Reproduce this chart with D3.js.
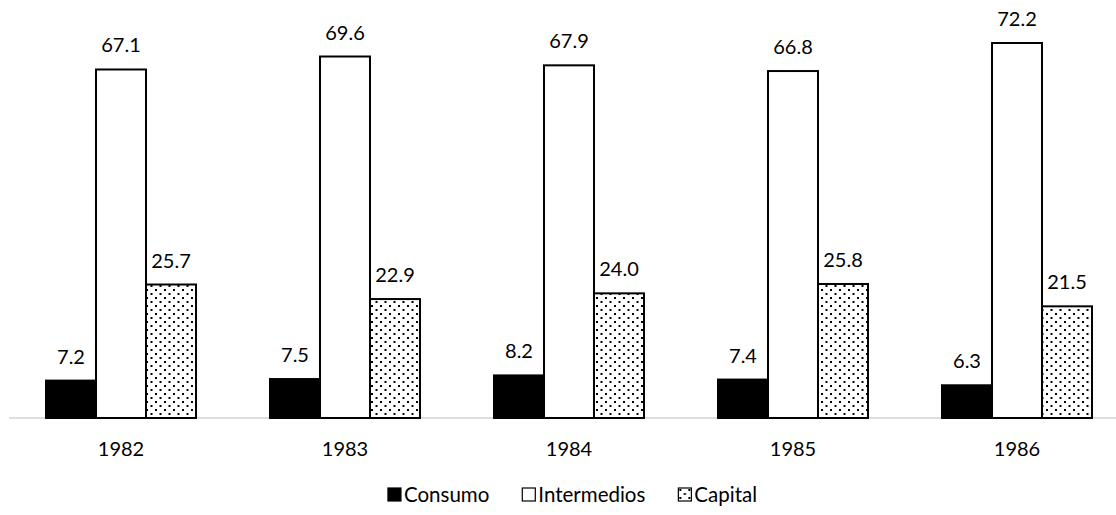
<!DOCTYPE html>
<html>
<head>
<meta charset="utf-8">
<script src="https://cdn.jsdelivr.net/npm/d3@7"></script>
<style>
  html, body { margin: 0; padding: 0; background: #fff; }
  svg { display: block; font-family: Lato, "Open Sans", sans-serif; }
</style>
</head>
<body>
<svg id="chart" width="1116" height="515"></svg>
<script>
// Import composition by type of good, 1982-1986 (%)
const years = ["1982", "1983", "1984", "1985", "1986"];
const seriesNames = ["Consumo", "Intermedios", "Capital"];
const consumo = [7.2, 7.5, 8.2, 7.4, 6.3];
const intermedios = [67.1, 69.6, 67.9, 66.8, 72.2];
const capital = [25.7, 22.9, 24.0, 25.8, 21.5];

const seriesValues = [consumo, intermedios, capital];

const svg = d3.select("#chart");

// dotted fill for the capital goods bars
const defs = svg.append("defs");
const pat = defs.append("pattern")
  .attr("id", "dots")
  .attr("patternUnits", "userSpaceOnUse")
  .attr("width", 9).attr("height", 8);
pat.append("rect").attr("width", 9).attr("height", 8).attr("fill", "#fff");
pat.append("rect").attr("x", 2).attr("y", 1).attr("width", 2).attr("height", 2).attr("fill", "#000");
pat.append("rect").attr("x", 6.5).attr("y", 5).attr("width", 2).attr("height", 2).attr("fill", "#000");

const fills = ["#000", "#fff", "url(#dots)"];

const baseY = 418;
const x0 = d3.scaleBand().domain(years).range([9, 1129]).paddingInner(0).paddingOuter(0);
const groupW = 150;
const x1 = d3.scaleBand().domain(seriesNames).range([0, groupW]).padding(0);
const y = d3.scaleLinear().domain([0, 72.2]).range([baseY, 43]);

// baseline
svg.append("line")
  .attr("x1", x0.range()[0]).attr("x2", x0.range()[1])
  .attr("y1", baseY).attr("y2", baseY)
  .attr("stroke", "#d3d3d3").attr("stroke-width", 1.5);

const rows = [];
years.forEach((yr, i) => {
  seriesNames.forEach((s, j) => {
    rows.push({ year: yr, series: s, j, value: seriesValues[j][i] });
  });
});

const gx = yr => x0(yr) + (x0.bandwidth() - groupW) / 2;

svg.append("g").selectAll("rect")
  .data(rows)
  .join("rect")
  .attr("x", d => gx(d.year) + x1(d.series))
  .attr("y", d => y(d.value))
  .attr("width", x1.bandwidth())
  .attr("height", d => baseY - y(d.value))
  .attr("fill", d => fills[d.j])
  .attr("stroke", "#000")
  .attr("stroke-width", 2);

// value labels
svg.append("g").selectAll("text")
  .data(rows)
  .join("text")
  .attr("x", d => gx(d.year) + x1(d.series) + x1.bandwidth() / 2)
  .attr("y", d => y(d.value) - 17)
  .attr("text-anchor", "middle")
  .attr("font-size", 20)
  .attr("fill", "#000")
  .text(d => d.value.toFixed(1));

// category axis labels
const xAxis = d3.axisBottom(x0).tickSize(0).tickPadding(0);
const axG = svg.append("g").attr("transform", `translate(0, ${baseY})`).call(xAxis);
axG.select(".domain").remove();
axG.selectAll("text")
  .attr("font-family", "Lato, 'Open Sans', sans-serif")
  .attr("font-size", 20)
  .attr("fill", "#000")
  .attr("dy", null)
  .attr("y", 38);

// legend
const legend = svg.append("g");
const sq = 14, gapText = 3, gapItem = 32, legY = 502;
let cx = 0;
seriesNames.forEach((s, j) => {
  const g = legend.append("g");
  g.append("rect")
    .attr("x", 1).attr("y", legY - sq)
    .attr("width", sq - 1).attr("height", sq - 1)
    .attr("fill", fills[j])
    .attr("stroke", "#000").attr("stroke-width", 1.2);
  const t = g.append("text")
    .attr("x", sq + gapText)
    .attr("y", legY)
    .attr("font-size", 20.5)
    .attr("fill", "#000")
    .text(s);
  const w = sq + gapText + t.node().getComputedTextLength();
  g.attr("transform", `translate(${cx},0)`);
  cx += w + gapItem;
});
const totalW = cx - gapItem;
legend.attr("transform", `translate(${572 - totalW / 2},0)`);
</script>
</body>
</html>
